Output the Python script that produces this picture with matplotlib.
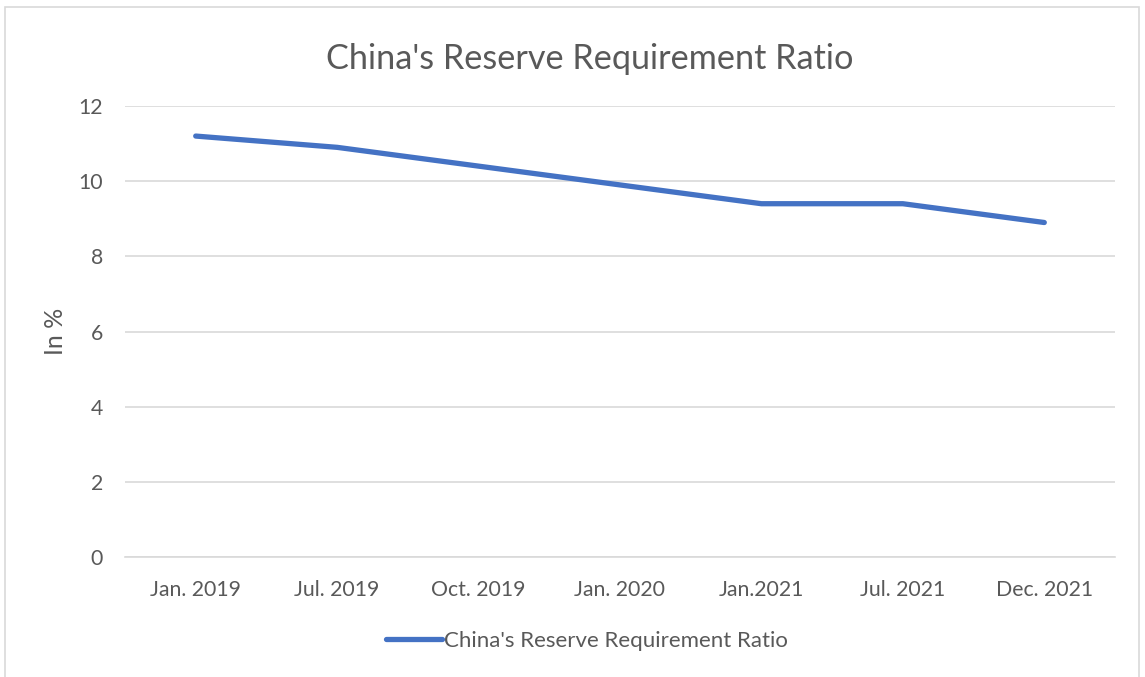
import matplotlib.pyplot as plt
from matplotlib.patches import Rectangle

# China's reserve requirement ratio, in %
periods = ["Jan. 2019", "Jul. 2019", "Oct. 2019", "Jan. 2020", "Jan.2021", "Jul. 2021", "Dec. 2021"]
rrr = [11.2, 10.9, 10.4, 9.9, 9.4, 9.4, 8.9]
y_ticks = [0, 2, 4, 6, 8, 10, 12]

TEXT = "#595959"
GRID = "#d9d9d9"
BLUE = "#4472c4"

plt.rcParams["font.family"] = ["Lato", "DejaVu Sans"]

W, H = 1145, 677
fig = plt.figure(figsize=(W / 100, H / 100), dpi=100)

# chart frame
fig.patches.append(Rectangle((5 / W, -0.05), 1134 / W, 1.05 - 7 / H, transform=fig.transFigure,
                             fill=False, edgecolor=GRID, linewidth=1.2))

ax = fig.add_axes([125 / W, 1 - 557 / H, 990 / W, 451 / H])
x = range(len(periods))
ax.plot(x, rrr, color=BLUE, linewidth=3.8, solid_capstyle="round", solid_joinstyle="round",
        label="China's Reserve Requirement Ratio")

ax.set_xlim(-0.5, len(periods) - 0.5)
ax.set_ylim(0, 12)
ax.set_yticks(y_ticks)
ax.set_xticks(list(x))
ax.set_xticklabels(periods)
ax.grid(axis="y", color=GRID, linewidth=1.2)
ax.set_axisbelow(True)
for s in ["top", "right", "left"]:
    ax.spines[s].set_visible(False)
ax.spines["bottom"].set_color(GRID)
ax.spines["bottom"].set_linewidth(1.2)
ax.tick_params(length=0, labelsize=15.3, colors=TEXT, pad=16.5)
ax.tick_params(axis="y", pad=16)

ax.set_ylabel("In %", fontsize=18, color=TEXT, labelpad=8)
fig.text(590 / W, 1 - 59 / H, "China's Reserve Requirement Ratio", ha="center", va="center",
         fontsize=24.7, color=TEXT)

leg = fig.legend(loc="center", bbox_to_anchor=(587 / W, 1 - 641 / H), frameon=False,
                 fontsize=16, handlelength=2.5, handletextpad=0.1)
for t in leg.get_texts():
    t.set_color(TEXT)

fig.savefig("out.png", dpi=100)
